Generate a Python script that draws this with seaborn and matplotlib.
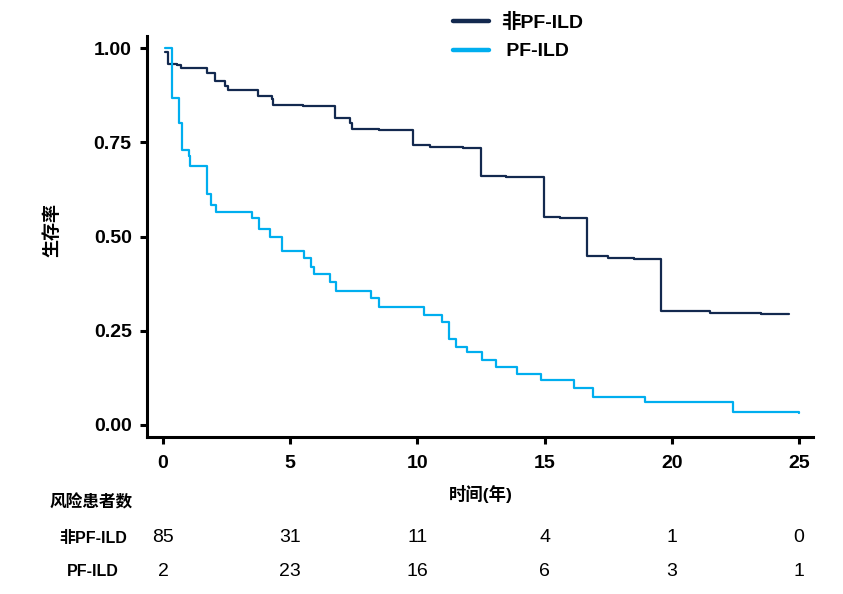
import matplotlib
matplotlib.use("Agg")
import matplotlib.pyplot as plt
import matplotlib.transforms as mtransforms
import numpy as np
import pandas as pd
import seaborn as sns

# Kaplan-Meier step points (time in years, survival)
non_pf_time = [0.08, 0.2, 0.54, 0.69, 1.72, 2.04, 2.44, 2.57, 3.75, 4.27, 4.34, 5.5,
               6.76, 7.35, 7.42, 8.5, 9.81, 10.5, 11.8, 12.49, 13.5, 14.98, 15.6,
               16.68, 17.5, 18.5, 19.58, 21.5, 23.5, 24.6]
non_pf_surv = [0.99, 0.959, 0.955, 0.948, 0.934, 0.913, 0.899, 0.889, 0.873, 0.866, 0.848, 0.846,
               0.815, 0.800, 0.784, 0.783, 0.743, 0.738, 0.735, 0.661, 0.658, 0.553, 0.550,
               0.447, 0.444, 0.440, 0.301, 0.298, 0.295, 0.295]

pf_time = [0.08, 0.35, 0.64, 0.76, 1.02, 1.06, 1.72, 1.87, 2.08, 3.51, 3.79, 4.21, 4.67,
           5.55, 5.82, 5.95, 6.56, 6.8, 8.18, 8.5, 10.26, 10.95, 11.25, 11.52, 11.94,
           12.52, 13.09, 13.93, 14.86, 16.16, 16.89, 18.95, 22.42, 25.0]
pf_surv = [1.0, 0.868, 0.800, 0.729, 0.713, 0.688, 0.614, 0.584, 0.564, 0.548, 0.519, 0.499, 0.462,
           0.442, 0.418, 0.401, 0.378, 0.356, 0.336, 0.312, 0.293, 0.274, 0.228, 0.206, 0.194,
           0.172, 0.153, 0.134, 0.119, 0.097, 0.073, 0.062, 0.034, 0.031]

groups = ["非PF-ILD", "PF-ILD"]
colors = ["#13294f", "#00aeef"]

risk_times = [0, 5, 10, 15, 20, 25]
risk_non_pf = [85, 31, 11, 4, 1, 0]
risk_pf = [2, 23, 16, 6, 3, 1]

x_ticks = [0, 5, 10, 15, 20, 25]
y_ticks = [0.0, 0.25, 0.5, 0.75, 1.0]

sns.set_style("ticks")
plt.rcParams["font.family"] = ["Liberation Sans", "Noto Sans CJK SC", "DejaVu Sans"]
plt.rcParams["text.color"] = "black"
plt.rcParams["axes.labelcolor"] = "black"
plt.rcParams["xtick.color"] = "black"
plt.rcParams["ytick.color"] = "black"

df = pd.concat([
    pd.DataFrame({"time": non_pf_time, "surv": non_pf_surv, "group": groups[0]}),
    pd.DataFrame({"time": pf_time, "surv": pf_surv, "group": groups[1]}),
])

fig = plt.figure(figsize=(8.43, 5.94), dpi=100)
ax = fig.add_axes([147 / 843, 1 - 437 / 594, 666 / 843, 401 / 594])

sns.lineplot(data=df, x="time", y="surv", hue="group", palette=colors,
             estimator=None, drawstyle="steps-post", linewidth=1.6, ax=ax, legend=False)

ax.set_xlim(-0.63, 25.55)
ax.set_ylim(-0.032, 1.032)
ax.set_xticks(x_ticks)
ax.set_yticks(y_ticks)
ax.set_xticklabels([str(t) for t in x_ticks], fontsize=14, fontweight="bold")
ax.set_yticklabels([f"{v:.2f}" for v in y_ticks], fontsize=14, fontweight="bold")
ax.tick_params(width=2.2, length=5, color="black")
ax.tick_params(axis="x", pad=8)
ax.tick_params(axis="y", pad=6)
for side in ["left", "bottom"]:
    ax.spines[side].set_linewidth(2.2)
    ax.spines[side].set_color("black")
sns.despine(ax=ax)
ax.set_xlabel("")
ax.set_ylabel("")

fig.text(481 / 843, 1 - 494 / 594, "时间(年)", ha="center", va="center",
         fontsize=12.5, fontweight="bold")
fig.text(53 / 843, 1 - 230 / 594, "生存率", ha="center", va="center", rotation=90,
         fontsize=13, fontweight="bold")

# legend above the plot
handles = [plt.Line2D([], [], color=c, linewidth=3.2) for c in colors]
fig.legend(handles, ["非PF-ILD", " PF-ILD"], loc="upper left", bbox_to_anchor=(453 / 843, 1 - 13 / 594),
           frameon=False, handlelength=1.85, handletextpad=0.6, labelspacing=0.55,
           borderpad=0, borderaxespad=0, prop={"size": 14, "weight": "bold"})

# number-at-risk table
trans = mtransforms.blended_transform_factory(ax.transData, fig.transFigure)
fig.text(91.5 / 843, 1 - 502 / 594, "风险患者数", ha="center", va="center",
         fontsize=12, fontweight="bold")
fig.text(93 / 843, 1 - 538 / 594, "非PF-ILD", ha="center", va="center",
         fontsize=11.5, fontweight="bold")
fig.text(93 / 843, 1 - 571 / 594, "PF-ILD", ha="center", va="center",
         fontsize=11.5, fontweight="bold")
for t, a, b in zip(risk_times, risk_non_pf, risk_pf):
    ax.text(t, 1 - 538 / 594, str(a), transform=trans, ha="center", va="center", fontsize=14)
    ax.text(t, 1 - 571 / 594, str(b), transform=trans, ha="center", va="center", fontsize=14)

fig.savefig("out.png", dpi=100)
